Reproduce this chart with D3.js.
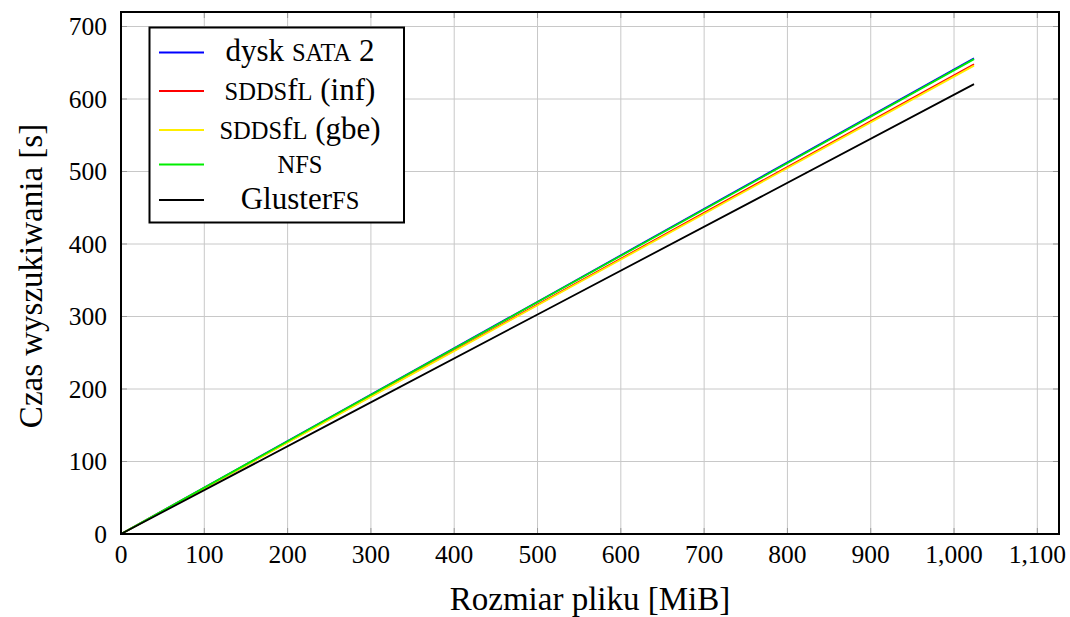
<!DOCTYPE html>
<html>
<head>
<meta charset="utf-8">
<script src="https://cdn.jsdelivr.net/npm/d3@7"></script>
<style>
  body { margin: 0; background: #fff; }
</style>
</head>
<body>
<div id="chart"></div>
<script>
// file sizes [MiB]
const sizes = [0, 256, 512, 768, 1024];
// seek time [s] per series
const sata = [0, 164, 328, 492, 656];
const sddsInf = [0, 162, 324, 486, 648];
const sddsGbe = [0, 161.5, 323, 484.5, 646];
const nfs = [0, 163.7, 327.5, 491, 655];
const gluster = [0, 155, 310, 465, 620.5];

const xTicks = [0, 100, 200, 300, 400, 500, 600, 700, 800, 900, 1000, 1100];
const yTicks = [0, 100, 200, 300, 400, 500, 600, 700];

// legend labels: [text, smallcaps?] parts
const series = [
  {vals: sata, color: "#0000ff", label: [["dysk ", false], ["sata", true], [" 2", false]]},
  {vals: sddsInf, color: "#ff0000", label: [["sdds", true], ["f", false], ["l", true], [" (inf)", false]]},
  {vals: sddsGbe, color: "#ffee00", label: [["sdds", true], ["f", false], ["l", true], [" (gbe)", false]]},
  {vals: nfs, color: "#00ee00", label: [["nfs", true]]},
  {vals: gluster, color: "#000000", label: [["Gluster", false], ["fs", true]]}
];

const W = 1070, H = 617;
const margin = {top: 12, right: 11, bottom: 83, left: 121};
const FONT = "'Liberation Serif', 'DejaVu Serif', serif";

const svg = d3.select("#chart").append("svg")
  .attr("width", W).attr("height", H)
  .attr("font-family", FONT);

const x = d3.scaleLinear().domain([0, 1126]).range([margin.left, W - margin.right]);
const y = d3.scaleLinear().domain([0, 720]).range([H - margin.bottom, margin.top]);

// grid
svg.append("g").selectAll("line").data(xTicks).join("line")
  .attr("x1", d => x(d)).attr("x2", d => x(d))
  .attr("y1", y(0)).attr("y2", y(720))
  .attr("stroke", "#c8c8c8").attr("stroke-width", 1);
svg.append("g").selectAll("line").data(yTicks).join("line")
  .attr("y1", d => y(d)).attr("y2", d => y(d))
  .attr("x1", x(0)).attr("x2", x(1126))
  .attr("stroke", "#c8c8c8").attr("stroke-width", 1);

// inner ticks
const tl = 6;
svg.append("g").selectAll("line").data(xTicks).join("line")
  .attr("x1", d => x(d)).attr("x2", d => x(d))
  .attr("y1", y(0)).attr("y2", y(0) - tl)
  .attr("stroke", "#999").attr("stroke-width", 1);
svg.append("g").selectAll("line").data(xTicks).join("line")
  .attr("x1", d => x(d)).attr("x2", d => x(d))
  .attr("y1", y(720)).attr("y2", y(720) + tl)
  .attr("stroke", "#999").attr("stroke-width", 1);
svg.append("g").selectAll("line").data(yTicks).join("line")
  .attr("y1", d => y(d)).attr("y2", d => y(d))
  .attr("x1", x(0)).attr("x2", x(0) + tl)
  .attr("stroke", "#999").attr("stroke-width", 1);
svg.append("g").selectAll("line").data(yTicks).join("line")
  .attr("y1", d => y(d)).attr("y2", d => y(d))
  .attr("x1", x(1126)).attr("x2", x(1126) - tl)
  .attr("stroke", "#999").attr("stroke-width", 1);

// tick labels
const fmt = d3.format(",");
svg.append("g").selectAll("text").data(xTicks).join("text")
  .attr("x", d => x(d)).attr("y", y(0) + 29)
  .attr("text-anchor", "middle").attr("font-size", 25.5)
  .text(d => fmt(d));
svg.append("g").selectAll("text").data(yTicks).join("text")
  .attr("x", x(0) - 14).attr("y", d => y(d)).attr("dy", 8.5)
  .attr("text-anchor", "end").attr("font-size", 25.5)
  .text(d => d);

// lines
const line = d3.line().x((d, i) => x(sizes[i])).y(d => y(d));
svg.append("g").selectAll("path").data(series).join("path")
  .attr("d", d => line(d.vals))
  .attr("fill", "none")
  .attr("stroke", d => d.color)
  .attr("stroke-width", 1.8);

// frame
svg.append("rect")
  .attr("x", x(0)).attr("y", y(720))
  .attr("width", x(1126) - x(0)).attr("height", y(0) - y(720))
  .attr("fill", "none").attr("stroke", "#000").attr("stroke-width", 2);

// axis titles
svg.append("text")
  .attr("x", (x(0) + x(1126)) / 2).attr("y", 610)
  .attr("text-anchor", "middle").attr("font-size", 33)
  .text("Rozmiar pliku [MiB]");
svg.append("text")
  .attr("transform", `translate(42,${(y(0) + y(720)) / 2 + 3}) rotate(-90)`)
  .attr("text-anchor", "middle").attr("font-size", 33)
  .text("Czas wyszukiwania [s]");

// legend
const rowY = [52.5, 91, 130, 164.5, 200];
const lg = svg.append("g");
lg.append("rect")
  .attr("x", 149.5).attr("y", 27.5).attr("width", 254.5).attr("height", 195)
  .attr("fill", "#fff").attr("stroke", "#000").attr("stroke-width", 2);
const rows = lg.selectAll("g").data(series).join("g")
  .attr("transform", (d, i) => `translate(0,${rowY[i]})`);
rows.append("line")
  .attr("x1", 159).attr("x2", 204).attr("y1", 0).attr("y2", 0)
  .attr("stroke", d => d.color).attr("stroke-width", 1.8);
rows.append("text")
  .attr("x", 300).attr("y", 8.5)
  .attr("text-anchor", "middle").attr("font-size", 31)
  .selectAll("tspan").data(d => d.label).join("tspan")
  .attr("font-size", d => d[1] ? 24.5 : null)
  .text(d => d[1] ? d[0].toUpperCase() : d[0]);
</script>
</body>
</html>
